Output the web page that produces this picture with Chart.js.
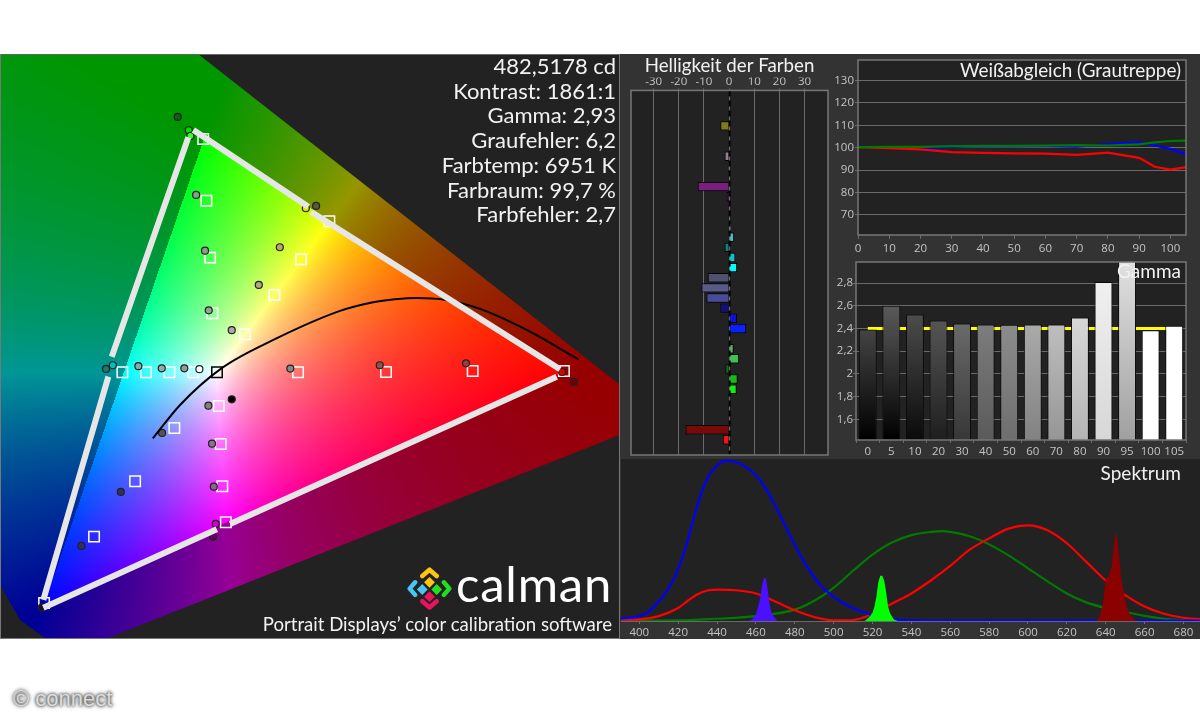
<!DOCTYPE html>
<html>
<head>
<meta charset="utf-8">
<title>Calman</title>
<script src="https://cdn.jsdelivr.net/npm/chart.js@4/dist/chart.umd.min.js"></script>
<style>
  html, body { margin: 0; padding: 0; background: #fff; }
  body { width: 1200px; height: 720px; position: relative; overflow: hidden; }
  canvas, .panel, .txt, svg { position: absolute; }
  .panel { background: #222; }
  .txt { color: #f2f2f2; font-family: Lato, sans-serif; white-space: nowrap; }
  #stats { right: 584px; top: 54px; text-align: right; font-size: 22px; line-height: 24.7px; }
</style>
</head>
<body>
<div class="panel" style="left:0;top:54px;width:620px;height:585px;box-sizing:border-box;border:1px solid #777;border-top-color:#666"></div>
<div class="panel" style="left:620px;top:54px;width:580px;height:405px;background:#333"></div>
<div class="panel" style="left:620px;top:458px;width:580px;height:181px;background:#333"></div>

<canvas id="cie" width="618" height="583" style="left:1px;top:55px"></canvas>
<canvas id="bright" width="209" height="404" style="left:621px;top:54px"></canvas>
<canvas id="white" width="370" height="205" style="left:830px;top:54px"></canvas>
<canvas id="gamma" width="370" height="199" style="left:830px;top:259px"></canvas>
<canvas id="spectrum" width="579" height="179" style="left:621px;top:459px"></canvas>

<div class="txt" id="stats">482,5178 cd<br>Kontrast: 1861:1<br>Gamma: 2,93<br>Graufehler: 6,2<br>Farbtemp: 6951 K<br>Farbraum: 99,7 %<br>Farbfehler: 2,7</div>
<div class="txt" style="right:19px;top:58px;font-size:18.9px">Weißabgleich (Grautreppe)</div>
<div class="txt" style="right:19px;top:259px;font-size:19px">Gamma</div>
<div class="txt" style="right:19px;top:461px;font-size:19px">Spektrum</div>
<div class="txt" style="left:456px;top:553px;font-size:49px;color:#fff;line-height:60px;letter-spacing:0.8px">calman</div>
<div class="txt" style="right:588px;top:612px;font-size:18.6px;line-height:24px">Portrait Displays’ color calibration software</div>
<div class="txt" style="left:13px;top:686px;font:22px 'Liberation Sans',sans-serif;color:#dcdcdc;text-shadow:0 0 3px #333,0 0 4px #555">© connect</div>

<svg width="45" height="45" viewBox="0 0 50 50" style="left:407px;top:567px">
  <g fill="none" stroke-width="5" stroke-linejoin="round" stroke-linecap="round">
    <polyline points="17,10 25,3 33,10" stroke="#fdc512"/>
    <polyline points="9,17 3,24 9,31" stroke="#4cc3f0"/>
    <polyline points="41,17 47,24 41,31" stroke="#22e01e"/>
    <polyline points="17,38 25,45 33,38" stroke="#e8145e"/>
  </g>
  <path d="M25 11l6 6-6 6-6-6z" fill="#fdc512"/>
  <path d="M17 19l6 6-6 6-6-6z" fill="#4cc3f0"/>
  <path d="M33 19l6 6-6 6-6-6z" fill="#22e01e"/>
  <path d="M25 27l6 6-6 6-6-6z" fill="#e8145e"/>
</svg>

<script>
// CIE xy chromaticity: target squares
const targetX = [0.30, 0.303, 0.3065, 0.3086, 0.313, 0.4189, 0.3922, 0.3671, 0.3394, 0.64, 0.554, 0.4723, 0.3894,
                 0.15, 0.1971, 0.2358, 0.2728, 0.3213, 0.318, 0.3165, 0.3147, 0.2238, 0.2461, 0.2681, 0.2907];
const targetY = [0.60, 0.5283, 0.462, 0.3972, 0.3286, 0.5044, 0.4601, 0.4186, 0.3728, 0.33, 0.33, 0.3289, 0.3286,
                 0.06, 0.1372, 0.2017, 0.2637, 0.1539, 0.1959, 0.2451, 0.2893, 0.3286, 0.3286, 0.3286, 0.3286];

// measured circles
const measuredX = [0.276, 0.2864, 0.2879, 0.2933, 0.3017, 0.3052, 0.3269, 0.3524, 0.3722, 0.4064, 0.3967, 0.2084, 0.2148, 0.2389, 0.2609, 0.2822,
                   0.2964, 0.3821, 0.3269, 0.3049, 0.2612, 0.3083, 0.31, 0.2223, 0.3118, 0.3093, 0.1852, 0.1478, 0.5477, 0.4664, 0.6492, 0.6382];
const measuredY = [0.6258, 0.6103, 0.6037, 0.535, 0.4701, 0.4007, 0.3775, 0.4302, 0.4741, 0.5222, 0.5195, 0.3324, 0.3367, 0.3356, 0.3332, 0.3332,
                   0.3321, 0.3328, 0.2971, 0.2897, 0.2579, 0.2454, 0.1954, 0.1892, 0.152, 0.1372, 0.1264, 0.0545, 0.339, 0.3367, 0.3173, 0.3289];
const measuredColors = ['#1a5a1a', '#00e000', '#30ff30', '#88a088', '#8aa08a', '#8caa8c', '#aaaaaa', '#b0a880', '#b8a870', '#5a5a3a', '#e0e000',
                        '#1a7a70', '#00c0c0', '#7ab0b0', '#8ab0b0', '#999999', '#ffffff', '#888888', '#000000', '#808080', '#555555', '#907090',
                        '#906090', '#303060', '#d000d0', '#600060', '#303060', '#111130', '#a03a3a', '#905050', '#700000', '#e00000'];

// measured gamut outline, split at the secondaries
const gamutX = [0.2907, 0.3991, null, 0.4016, 0.6363, null, 0.6332, 0.3253, null, 0.3128, 0.1493, null, 0.1493, 0.2106, null, 0.2138, 0.286];
const gamutY = [0.6106, 0.5213, null, 0.5155, 0.3321, null, 0.3234, 0.152, null, 0.1458, 0.0545, null, 0.0635, 0.3234, null, 0.3467, 0.6021];

// black body curve
const locusX = [0.2525, 0.2782, 0.3178, 0.3661, 0.429, 0.4601, 0.4808, 0.5013, 0.5261, 0.5609, 0.6049, 0.6536];
const locusY = [0.2517, 0.2905, 0.3336, 0.3662, 0.40, 0.4101, 0.4136, 0.4151, 0.4133, 0.4023, 0.3778, 0.3437];

// colour area outline
const areaX = [0.1085, 0.2951, 0.6929, 0.6929, 0.2103, 0.1509, 0.1274, 0.1085];
const areaY = [0.6991, 0.6991, 0.3138, 0.2556, 0.0193, 0.0193, 0.0402, 0.081];

// Helligkeit der Farben
const brightValues = [-0.3, 0.5, 0, -3.5, 0, 0, -1.8, -0.5, 0, -12.5, -1, 0.8, 0, 0.8, 2, -1.8, 2.5, 3.2,
                      -8.5, -11, -9, -3.5, 3.2, 6.8, 0, 1.8, 4, -1.5, 3.4, 3, -0.4, 0, 0.7, -17.3, -2.5, 0];
const brightColors = ['#aaaaaa', '#8f8f60', '#222222', '#807a1a', '#222222', '#222222', '#8f7f90', '#a07aa0', '#222222', '#7a1f80', '#6a0f80', '#b010c0',
                      '#222222', '#90d0d0', '#50b8c0', '#108080', '#10c0c8', '#00ffff', '#50506f', '#5a5a8a', '#4a4a9a', '#10107f', '#1010d0', '#0a20ff',
                      '#222222', '#60b060', '#40c050', '#107010', '#10c010', '#10f010', '#666655', '#222222', '#d03030', '#7a0a0a', '#ff1010', '#222222'];

// Weißabgleich
const stepX = [0, 10, 20, 30, 40, 50, 60, 70, 80, 90, 95, 100, 105];
const whiteRed = [100.3, 99.8, 99.3, 98, 97.7, 97.5, 97.4, 96.8, 97.8, 95.5, 91.5, 90.2, 91.3];
const whiteGreen = [100.3, 100.4, 100.4, 100.7, 100.8, 100.8, 100.9, 101.2, 101, 101.5, 102.4, 103, 103.2];
const whiteBlue = [100.4, 100, 99.6, 100.4, 100.7, 100.6, 100.7, 100.5, 101.6, 102.5, 101, 99.5, 97];

// Gamma
const gammaLabels = ['0', '5', '10', '20', '30', '40', '50', '60', '70', '80', '90', '95', '100', '105'];
const gammaValues = [2.39, 2.6, 2.524, 2.47, 2.444, 2.435, 2.432, 2.435, 2.435, 2.497, 2.81, 3.0, 2.385, 2.424];
const gammaTarget = [2.4, 2.4, 2.4, 2.4, 2.4, 2.4, 2.4, 2.4, 2.4, 2.4, 2.4, 2.4, 2.4, 2.4];
const gammaTop = ['#444444', '#5a5a5a', '#4c4c4c', '#555555', '#6a6a6a', '#7d7d7d', '#8c8c8c', '#aaaaaa', '#bebebe', '#d7d7d7', '#f0f0f0', '#e1e1e1', '#ffffff', '#ffffff'];
const gammaBottom = ['#000000', '#000000', '#0a0a0a', '#1e1e1e', '#373737', '#5a5a5a', '#6e6e6e', '#828282', '#969696', '#b4b4b4', '#d7d7d7', '#a0a0a0', '#ffffff', '#ffffff'];

// Spektrum
const blueCurveX = [390, 400, 405, 410, 415, 420, 425, 430, 435, 440, 445, 450, 455, 460, 465, 470, 475, 480, 485, 490, 495, 500, 505, 510, 515, 520, 530, 540, 550, 690];
const blueCurve = [1.4, 3, 6, 12, 20, 32, 50, 72, 88, 96, 99, 98, 95, 90, 82, 71, 59, 47, 36, 27, 20, 15, 11, 8, 5.6, 3.5, 1, 0.4, 0.3, 0.3];
const greenCurveX = [390, 420, 440, 460, 480, 490, 500, 510, 520, 530, 540, 550, 556, 560, 570, 580, 590, 600, 610, 620, 630, 640, 650, 660, 670, 680, 690];
const greenCurve = [0.2, 0.4, 1.4, 3, 7, 12.5, 20.5, 31, 41, 48.5, 53, 55, 55.5, 55, 52.3, 47.3, 40.5, 32.5, 24.5, 17, 11.5, 8, 5.5, 3.2, 1.4, 0.6, 0.3];
const redCurveX = [390, 400, 410, 420, 425, 430, 435, 440, 450, 460, 470, 480, 490, 500, 510, 515, 520, 530, 540, 550, 560, 570, 580, 590, 600, 610, 620, 630, 640, 650, 660, 670, 680, 690];
const redCurve = [0.8, 1, 3, 8, 12.5, 16.5, 18.8, 19.4, 19, 17, 12, 6.6, 2.5, 0.4, 0.6, 2, 4.5, 10.7, 17, 25, 34, 44, 51, 57, 59, 56, 48, 36.5, 25, 16, 9, 4.5, 2, 1];
const blueSpikeX = [456, 458, 460, 461, 462, 463, 464, 465, 466, 467, 468, 469, 470, 471];
const blueSpike = [0, 1, 4, 8, 13, 21, 26, 27, 20, 11, 5, 3, 1.5, 0];
const greenSpikeX = [516, 518, 520, 521, 522, 523, 524, 525, 526, 527, 528, 529, 531, 533];
const greenSpike = [0, 2, 5, 9, 15, 24, 28, 28, 25, 18, 9, 5, 1, 0];
const redSpikeX = [635, 637, 638, 639, 640, 641, 642, 643, 644, 645, 646, 647, 648, 649, 650, 651, 652, 654, 656];
const redSpike = [0, 3, 8, 15, 26, 27, 29, 33, 45, 55, 50, 38, 26, 20, 13, 8, 5, 1.5, 0];

const tickColor = '#c4c4c4';
const gridColor = '#6a6a6a';
const tickFont = { family: 'Open Sans', size: 11.5 };

Chart.defaults.layout.autoPadding = false;

function xy(xs, ys) {
  return xs.map((x, i) => ({ x: x, y: ys[i] }));
}

// y axis of a fixed width, no extra room for the end labels
function fitY(width) {
  return s => {
    s.width = width;
    s.paddingTop = 0;
    s.paddingBottom = 0;
  };
}

// plot background + frame
const plotFrame = {
  id: 'plotFrame',
  beforeDraw(chart) {
    const a = chart.chartArea;
    chart.ctx.fillStyle = '#222';
    chart.ctx.fillRect(a.left, a.top, a.width, a.height);
  },
  afterDraw(chart) {
    const a = chart.chartArea;
    chart.ctx.strokeStyle = '#777';
    chart.ctx.lineWidth = 1.5;
    chart.ctx.strokeRect(a.left, a.top, a.width, a.height);
  }
};

// chromaticity colours, painted through the chart's own scales
function chromaColor(cx, cy) {
  const X = cx / cy, Z = (1 - cx - cy) / cy;
  let r = 3.2406 * X - 1.5372 - 0.4986 * Z;
  let g = -0.9689 * X + 1.8758 + 0.0415 * Z;
  let b = 0.0557 * X - 0.204 + 1.057 * Z;
  const inside = r >= 0 && g >= 0 && b >= 0;
  r = Math.max(r, 0); g = Math.max(g, 0); b = Math.max(b, 0);
  const m = Math.max(r, g, b) || 1;
  const k = inside ? 255 : 150;
  return [k * Math.pow(r / m, 0.9), k * Math.pow(g / m, 0.9), k * Math.pow(b / m, 0.9)];
}

const chromaArea = {
  id: 'chromaArea',
  beforeDatasetsDraw(chart) {
    const { x: sx, y: sy } = chart.scales;
    const w = chart.width, h = chart.height;
    const off = document.createElement('canvas');
    off.width = w; off.height = h;
    const octx = off.getContext('2d');
    const img = octx.createImageData(w, h);
    for (let py = 0; py < h; py++) {
      const cy = sy.getValueForPixel(py);
      for (let px = 0; px < w; px++) {
        const c = chromaColor(sx.getValueForPixel(px), cy);
        const o = (py * w + px) * 4;
        img.data[o] = c[0]; img.data[o + 1] = c[1]; img.data[o + 2] = c[2]; img.data[o + 3] = 255;
      }
    }
    octx.putImageData(img, 0, 0);
    const ctx = chart.ctx;
    ctx.save();
    ctx.beginPath();
    areaX.forEach((x, i) => ctx.lineTo(sx.getPixelForValue(x), sy.getPixelForValue(areaY[i])));
    ctx.closePath();
    ctx.clip();
    ctx.drawImage(off, 0, 0);
    ctx.restore();
  }
};

new Chart(document.getElementById('cie'), {
  type: 'scatter',
  plugins: [chromaArea],
  data: {
    datasets: [
      { data: xy(gamutX, gamutY), showLine: true, borderColor: '#e6e6e6', borderWidth: 6, pointRadius: 0, borderCapStyle: 'butt', spanGaps: false },
      { data: xy(locusX, locusY), showLine: true, borderColor: '#000', borderWidth: 2, pointRadius: 0, cubicInterpolationMode: 'monotone' },
      { data: xy(measuredX, measuredY), pointRadius: 3.5, pointBorderWidth: 1.2, pointBorderColor: '#222', pointBackgroundColor: measuredColors },
      { data: xy(targetX, targetY), pointStyle: 'rect', pointRadius: 7.4, pointBorderWidth: 1.5, pointBackgroundColor: 'transparent',
        pointBorderColor: targetX.map((x, i) => (i === 4 ? '#000' : '#fff')) }
    ]
  },
  options: {
    responsive: false, animation: false, devicePixelRatio: 1,
    plugins: { legend: { display: false }, tooltip: { enabled: false } },
    scales: {
      x: { display: false, min: 0.1094, max: 0.6919 },
      y: { display: false, min: 0.0192, max: 0.6979 }
    }
  }
});

// dashed zero line on the brightness plot
const zeroDash = {
  id: 'zeroDash',
  afterDatasetsDraw(chart) {
    const a = chart.chartArea, px = chart.scales.x.getPixelForValue(0) + 0.5;
    const ctx = chart.ctx;
    ctx.save();
    ctx.strokeStyle = '#000';
    ctx.lineWidth = 2;
    ctx.setLineDash([6, 4]);
    ctx.beginPath();
    ctx.moveTo(px, a.top);
    ctx.lineTo(px, a.bottom);
    ctx.stroke();
    ctx.restore();
  }
};

new Chart(document.getElementById('bright'), {
  type: 'bar',
  plugins: [plotFrame, zeroDash],
  data: {
    labels: brightValues.map((v, i) => String(i + 1)),
    datasets: [{ data: brightValues, backgroundColor: brightColors, borderColor: '#000', borderWidth: 1, barPercentage: 0.93, categoryPercentage: 1, order: 1 }]
  },
  options: {
    indexAxis: 'y', responsive: false, animation: false, devicePixelRatio: 1,
    layout: { padding: { left: 10, right: 2, top: 0, bottom: 3 } },
    plugins: {
      legend: { display: false }, tooltip: { enabled: false },
      title: { display: true, text: 'Helligkeit der Farben', color: '#f2f2f2', fullSize: false, font: { family: 'Lato', size: 18.7, weight: 'normal' }, padding: { top: 1, bottom: 0 } }
    },
    scales: {
      x: {
        position: 'top', min: -39, max: 39.3,
        afterFit(s) { s.height = 13; },
        ticks: { stepSize: 10, includeBounds: false, color: tickColor, font: tickFont, padding: 0, maxRotation: 0 },
        grid: { color: gridColor, tickLength: 2 }, border: { display: false }
      },
      y: { display: false }
    }
  }
});

new Chart(document.getElementById('white'), {
  type: 'line',
  plugins: [plotFrame],
  data: {
    datasets: [
      { data: xy(stepX, whiteGreen), borderColor: '#007a00', borderWidth: 2.2, pointRadius: 0 },
      { data: xy(stepX, whiteRed), borderColor: '#ff0000', borderWidth: 2.2, pointRadius: 0 },
      { data: xy(stepX, whiteBlue), borderColor: '#0000ff', borderWidth: 2.2, pointRadius: 0 }
    ]
  },
  options: {
    responsive: false, animation: false, devicePixelRatio: 1,
    layout: { padding: { left: 0, right: 14, top: 6, bottom: 0 } },
    plugins: { legend: { display: false }, tooltip: { enabled: false } },
    scales: {
      x: {
        type: 'linear', min: 0, max: 105,
        afterFit(s) { s.height = 24; },
        ticks: { stepSize: 10, includeBounds: false, color: tickColor, font: tickFont, padding: 3, maxRotation: 0 },
        grid: { drawOnChartArea: false, color: gridColor, tickLength: 4 }, border: { display: false }
      },
      y: {
        min: 61, max: 139.2,
        afterFit: fitY(28),
        ticks: { stepSize: 10, includeBounds: false, color: tickColor, font: tickFont, padding: 1 },
        grid: { color: gridColor, tickLength: 3 }, border: { display: false }
      }
    }
  }
});

function gammaFill(c) {
  const chart = c.chart;
  if (!chart.chartArea) return gammaTop[c.dataIndex];
  const g = chart.ctx.createLinearGradient(0, chart.scales.y.getPixelForValue(gammaValues[c.dataIndex]), 0, chart.chartArea.bottom);
  g.addColorStop(0, gammaTop[c.dataIndex]);
  g.addColorStop(1, gammaBottom[c.dataIndex]);
  return g;
}

new Chart(document.getElementById('gamma'), {
  type: 'bar',
  plugins: [plotFrame],
  data: {
    labels: gammaLabels,
    datasets: [
      { data: gammaValues, backgroundColor: gammaFill, borderColor: '#0a0a0a', borderWidth: 1, barPercentage: 0.76, categoryPercentage: 1, order: 1 },
      { type: 'line', data: gammaTarget, borderColor: '#ffff00', borderWidth: 3, pointRadius: 0, order: 2 }
    ]
  },
  options: {
    responsive: false, animation: false, devicePixelRatio: 1,
    layout: { padding: { left: 0, right: 14, top: 3, bottom: 0 } },
    plugins: { legend: { display: false }, tooltip: { enabled: false } },
    scales: {
      x: {
        afterFit(s) { s.height = 18; },
        ticks: { color: tickColor, font: tickFont, padding: 2, maxRotation: 0, autoSkip: false },
        grid: { drawOnChartArea: false, color: gridColor, tickLength: 3 }, border: { display: false }
      },
      y: {
        min: 1.417, max: 2.986,
        afterFit: fitY(26),
        ticks: {
          stepSize: 0.2, includeBounds: false, color: tickColor, font: tickFont, padding: 0,
          callback: v => String(Math.round(v * 10) / 10).replace('.', ',')
        },
        grid: { color: gridColor, tickLength: 3 }, border: { display: false }
      }
    }
  }
});

new Chart(document.getElementById('spectrum'), {
  type: 'line',
  data: {
    datasets: [
      { data: xy(greenCurveX, greenCurve), borderColor: '#007a00', borderWidth: 2.2, pointRadius: 0, cubicInterpolationMode: 'monotone', order: 3 },
      { data: xy(redCurveX, redCurve), borderColor: '#ff0000', borderWidth: 2.2, pointRadius: 0, cubicInterpolationMode: 'monotone', order: 2 },
      { data: xy(blueCurveX, blueCurve), borderColor: '#0000ff', borderWidth: 2.2, pointRadius: 0, cubicInterpolationMode: 'monotone', order: 1 },
      { data: xy(blueSpikeX, blueSpike), borderWidth: 0, pointRadius: 0, fill: 'origin', backgroundColor: '#4a10ff', order: 0 },
      { data: xy(greenSpikeX, greenSpike), borderWidth: 0, pointRadius: 0, fill: 'origin', backgroundColor: '#00ff00', order: 0 },
      { data: xy(redSpikeX, redSpike), borderWidth: 0, pointRadius: 0, fill: 'origin', backgroundColor: '#8b0000', order: 0 }
    ]
  },
  plugins: [{
    id: 'spectrumBg',
    beforeDraw(chart) {
      const a = chart.chartArea;
      chart.ctx.fillStyle = '#222';
      chart.ctx.fillRect(a.left, a.top, a.width, a.height);
    }
  }],
  options: {
    responsive: false, animation: false, devicePixelRatio: 1,
    plugins: { legend: { display: false }, tooltip: { enabled: false }, filler: { propagate: false } },
    scales: {
      x: {
        type: 'linear', min: 390.6, max: 688.5,
        afterFit(s) { s.height = 17; },
        ticks: { stepSize: 20, includeBounds: false, color: tickColor, font: tickFont, padding: 2, maxRotation: 0 },
        grid: { drawOnChartArea: false, color: gridColor, tickLength: 3 }, border: { color: gridColor, width: 1 }
      },
      y: { display: false, min: 0, max: 100 }
    }
  }
});
</script>
</body>
</html>
